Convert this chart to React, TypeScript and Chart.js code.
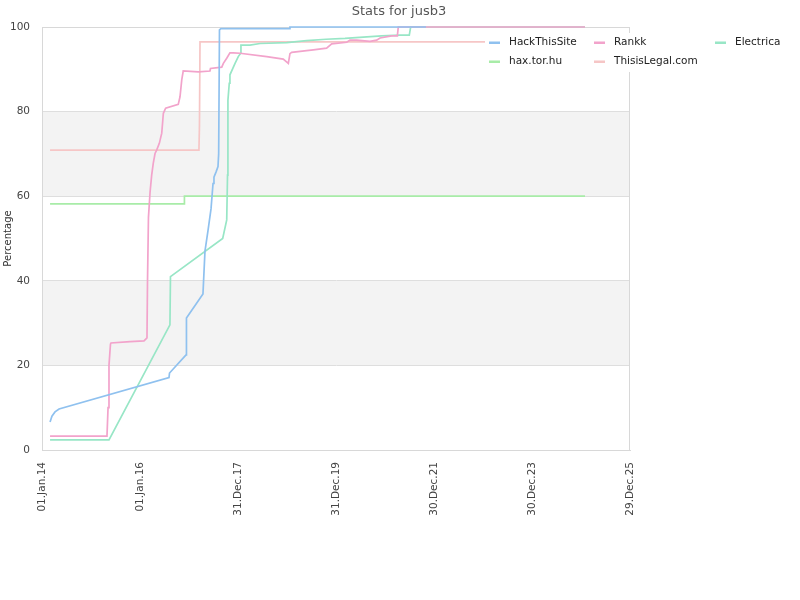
import React, { useEffect, useRef } from "react";
import { Chart, registerables } from "chart.js";

Chart.register(...registerables);

const START_UTC = Date.UTC(2014, 0, 1);
const MONTHS = ["Jan", "Feb", "Mar", "Apr", "May", "Jun", "Jul", "Aug", "Sep", "Oct", "Nov", "Dec"];

const chartTitle = "Stats for jusb3";
const yAxisTitle = "Percentage";
const xTickDays = [0, 730, 1460, 2190, 2920, 3650, 4380];
const yTickValues = [0, 20, 40, 60, 80, 100];

const seriesNames = ["HackThisSite", "Rankk", "Electrica", "hax.tor.hu", "ThisisLegal.com"];
const seriesColors = ["#8fc1ef", "#f2a3cb", "#98e6c6", "#a8eca8", "#f6c6c6"];

// x values: days since 01 Jan 2014
const hackDays = [60, 74, 97, 127, 946, 950, 1073, 1076, 1199, 1214, 1237, 1259, 1274, 1281, 1296, 1311, 1316, 1322, 1333, 1840, 1847, 2860];
const hackValues = [6.6, 8.0, 9.0, 9.7, 17.1, 18.2, 22.5, 31.2, 36.9, 47, 52, 57, 63, 64.5, 65.7, 67, 70, 99.3, 99.6, 99.6, 100, 100];

const rankkDays = [60, 484, 492, 499, 510, 514, 656, 760, 782, 786, 793, 805, 817, 829, 842, 854, 874, 892, 904, 921, 1015, 1028, 1041, 1052, 1164, 1251, 1255, 1339, 1351, 1376, 1400, 1425, 1475, 1674, 1797, 1835, 1847, 1860, 1971, 2021, 2120, 2158, 2270, 2294, 2344, 2443, 2493, 2518, 2605, 2647, 2654, 4045];
const rankkValues = [3.3, 3.3, 10, 20, 25.0, 25.3, 25.6, 25.8, 26.5, 40, 55, 61, 65, 67.8, 70.1, 70.9, 72.5, 74.9, 79.6, 80.8, 81.7, 83.5, 87.5, 89.6, 89.4, 89.6, 90.2, 90.5, 91.4, 92.6, 93.9, 93.9, 93.8, 93.0, 92.4, 91.4, 93.7, 94.0, 94.4, 94.6, 95.0, 96.0, 96.4, 96.9, 96.9, 96.6, 96.9, 97.4, 97.9, 97.9, 100, 100];

const electricaDays = [60, 499, 953, 957, 1346, 1376, 1382, 1385, 1395, 1400, 1438, 1462, 1480, 1482, 1549, 1624, 1823, 1971, 2116, 2257, 2393, 2530, 2667, 2736, 2746, 4045];
const electricaValues = [2.4, 2.4, 29.6, 41.0, 50.0, 54.4, 65, 82.7, 86.7, 88.7, 91.4, 93.0, 93.8, 95.7, 95.7, 96.1, 96.3, 96.8, 97.1, 97.3, 97.6, 97.9, 98.1, 98.1, 100, 100];

const haxDays = [60, 1058, 1061, 4045];
const haxValues = [58.2, 58.2, 60, 60];

const legalDays = [60, 1169, 1173, 1177, 4045];
const legalValues = [70.9, 70.9, 76.8, 96.5, 96.5];

const seriesDays = [hackDays, rankkDays, electricaDays, haxDays, legalDays];
const seriesValues = [hackValues, rankkValues, electricaValues, haxValues, legalValues];

const bands: [number, number][] = [[20, 40], [60, 80]];

function formatDay(d: number): string {
  const dt = new Date(START_UTC + Math.round(d) * 86400000);
  const dd = String(dt.getUTCDate()).padStart(2, "0");
  const yy = String(dt.getUTCFullYear() % 100).padStart(2, "0");
  return `${dd}.${MONTHS[dt.getUTCMonth()]}.${yy}`;
}

const FONT = "'DejaVu Sans', Verdana, sans-serif";

const decorPlugin = {
  id: "decor",
  beforeDraw(chart: any) {
    const { ctx, chartArea, scales } = chart;
    ctx.save();
    ctx.fillStyle = "#f3f3f3";
    for (const [lo, hi] of bands) {
      const y1 = scales.y.getPixelForValue(hi);
      const y2 = scales.y.getPixelForValue(lo);
      ctx.fillRect(chartArea.left, y1, chartArea.right - chartArea.left, y2 - y1);
    }
    ctx.restore();
  },
  beforeDatasetsDraw(chart: any) {
    const { ctx, chartArea } = chart;
    ctx.save();
    ctx.strokeStyle = "#d8d8d8";
    ctx.lineWidth = 1;
    ctx.strokeRect(chartArea.left + 0.5, chartArea.top + 0.5, chartArea.right - chartArea.left - 1, chartArea.bottom - chartArea.top);
    ctx.restore();
  },
  afterDraw(chart: any) {
    const { ctx } = chart;
    ctx.save();
    // title, centred on the whole canvas
    ctx.font = `13px ${FONT}`;
    ctx.fillStyle = "#555555";
    ctx.textAlign = "center";
    ctx.textBaseline = "middle";
    ctx.fillText(chartTitle, 399, 12);
    // legend
    ctx.fillStyle = "#ffffff";
    ctx.fillRect(485, 33, 312, 39);
    const colX = [489, 594, 715];
    const rowY = [42.5, 61.5];
    ctx.font = `10.5px ${FONT}`;
    ctx.textBaseline = "middle";
    ctx.textAlign = "left";
    chart.data.datasets.forEach((ds: any, i: number) => {
      const x = colX[i % 3];
      const y = rowY[Math.floor(i / 3)];
      ctx.fillStyle = ds.borderColor;
      ctx.fillRect(x, y - 1, 11, 2.5);
      ctx.fillStyle = "#222222";
      ctx.fillText(ds.label, x + 20, y);
    });
    ctx.restore();
  },
};

export default function App() {
  const canvasRef = useRef<HTMLCanvasElement | null>(null);

  useEffect(() => {
    if (!canvasRef.current) return;
    const datasets = seriesNames.map((name, i) => ({
      label: name,
      data: seriesDays[i].map((d, j) => ({ x: d, y: seriesValues[i][j] })),
      borderColor: seriesColors[i],
      backgroundColor: seriesColors[i],
      borderWidth: 1.7,
      pointRadius: 0,
      tension: 0,
      fill: false,
      clip: false,
    }));
    const chart = new Chart(canvasRef.current, {
      type: "line",
      data: { datasets },
      plugins: [decorPlugin],
      options: {
        animation: false,
        responsive: false,
        maintainAspectRatio: false,
        layout: { padding: { left: 0, right: 170, top: 27, bottom: 0 } },
        plugins: {
          legend: { display: false },
          tooltip: { enabled: false },
          title: { display: false, text: chartTitle },
        },
        scales: {
          x: {
            type: "linear",
            min: 0,
            max: 4380,
            afterBuildTicks: (scale: any) => {
              scale.ticks = xTickDays.map((v) => ({ value: v }));
            },
            afterFit: (scale: any) => {
              scale.height = 150;
            },
            grid: { display: false, drawTicks: false },
            border: { display: true, color: "#d8d8d8" },
            ticks: {
              color: "#444444",
              font: { family: FONT, size: 10.5 },
              minRotation: 90,
              maxRotation: 90,
              padding: 12,
              autoSkip: false,
              callback: (v: any) => formatDay(Number(v)),
            },
          },
          y: {
            type: "linear",
            min: 0,
            max: 100,
            afterBuildTicks: (scale: any) => {
              scale.ticks = yTickValues.map((v) => ({ value: v }));
            },
            afterFit: (scale: any) => {
              scale.width = 42;
            },
            grid: { color: "#dedede", drawTicks: false },
            border: { display: true, color: "#d8d8d8" },
            title: {
              display: true,
              text: yAxisTitle,
              color: "#333333",
              font: { family: FONT, size: 10 },
              padding: { top: 2, bottom: 0 },
            },
            ticks: {
              color: "#444444",
              font: { family: FONT, size: 10.5 },
              padding: 12,
            },
          },
        },
      },
    } as any);
    return () => chart.destroy();
  }, []);

  return (
    <div style={{ position: "fixed", left: 0, top: 0, width: 800, height: 600, background: "#fff" }}>
      <canvas ref={canvasRef} width={800} height={600} style={{ width: 800, height: 600, display: "block" }} />
    </div>
  );
}
